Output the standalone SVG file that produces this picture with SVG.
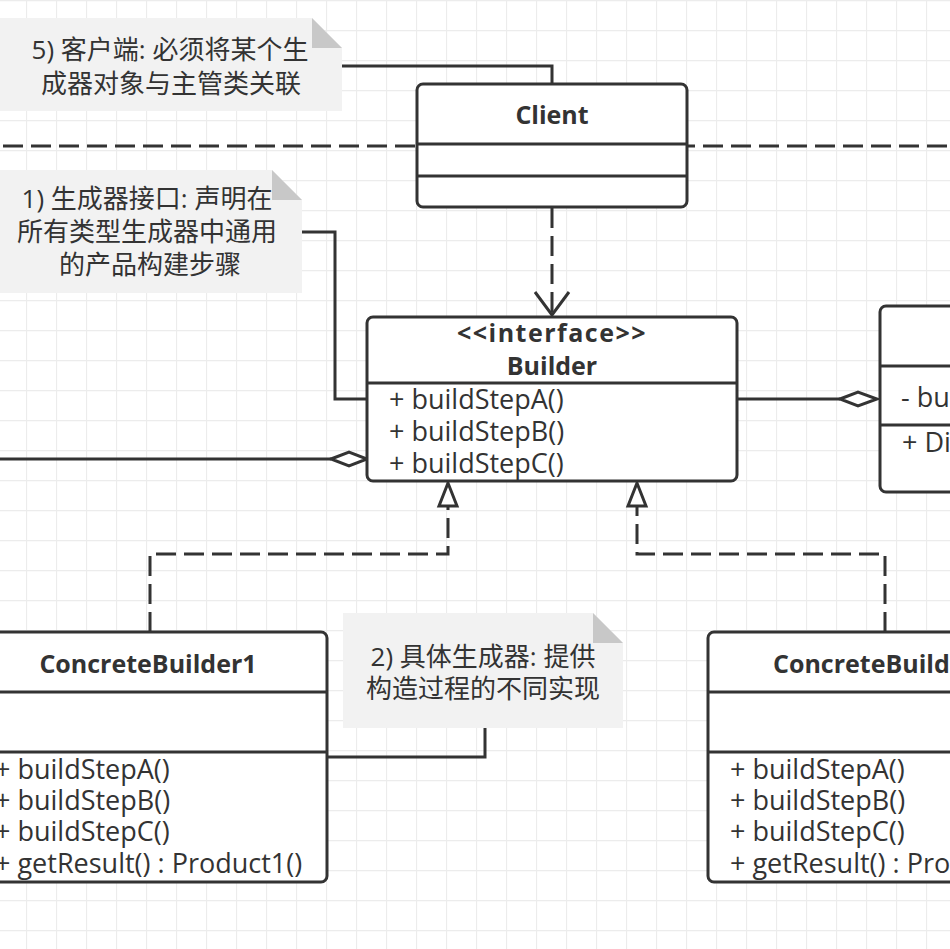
<svg xmlns="http://www.w3.org/2000/svg" width="950" height="949" viewBox="0 0 950 949">
<style>
.box{fill:#fff;stroke:#333;stroke-width:3}
.div{stroke:#333;stroke-width:3}
.ln{fill:none;stroke:#333;stroke-width:3}
.dash{fill:none;stroke:#333;stroke-width:3;stroke-dasharray:20 8}
.note{fill:#f2f2f2}
.fold{fill:#c8c8c8}
.t{font-family:"Open Sans","Noto Sans",sans-serif;font-size:27px;fill:#333}
.b{font-family:"Open Sans","Noto Sans",sans-serif;font-size:25px;font-weight:bold;fill:#333}
.cn{font-family:"Open Sans","Noto Sans CJK SC",sans-serif;font-size:26px;fill:#333}
</style>
<defs>
<pattern id="grid" patternUnits="userSpaceOnUse" x="26" y="0" width="30" height="30">
<path d="M0 0.5H30M0.5 0V30" stroke="#ececec" stroke-width="1.3" fill="none"/>
</pattern>
</defs>
<rect width="950" height="949" fill="#fff"/>
<rect width="950" height="949" fill="url(#grid)"/>

<g id="connectors">
<line class="dash" x1="3" y1="146" x2="950" y2="146"/>
<polyline class="ln" points="342,66 552,66 552,84"/>
<polyline class="ln" points="302,232 335,232 335,399 367,399"/>
<polyline class="ln" points="485,728 485,757 327,757"/>
<line class="dash" x1="552" y1="208" x2="552" y2="313"/>
<polyline class="ln" points="535,292 552,315 569,292"/>
<line class="ln" x1="0" y1="459" x2="331" y2="459"/>
<polygon class="box" points="331,459 349,452 367,459 349,466"/>
<line class="ln" x1="737" y1="399" x2="840" y2="399"/>
<polygon class="box" points="840,399 858,392 877,399 858,406"/>
<polyline class="dash" points="150,632 150,554 448,554 448,507"/>
<polygon class="box" points="448,483 439,506 457,506"/>
<polyline class="dash" points="885,632 885,554 637,554 637,507"/>
<polygon class="box" points="637,483 628,506 646,506"/>
</g>

<g id="note5">
<polygon class="note" points="0,18 312,18 342,48 342,111 0,111"/>
<polygon class="fold" points="312,18 312,48 342,48"/>
<text class="cn" x="170" y="59" text-anchor="middle">5) 客户端: 必须将某个生</text>
<text class="cn" x="171" y="93" text-anchor="middle">成器对象与主管类关联</text>
</g>

<g id="note1">
<polygon class="note" points="0,170 272,170 302,200 302,293 0,293"/>
<polygon class="fold" points="272,170 272,200 302,200"/>
<text class="cn" x="147" y="208" text-anchor="middle">1) 生成器接口: 声明在</text>
<text class="cn" x="147" y="241" text-anchor="middle">所有类型生成器中通用</text>
<text class="cn" x="150" y="274" text-anchor="middle">的产品构建步骤</text>
</g>

<g id="note2">
<polygon class="note" points="343,613 593,613 623,643 623,728 343,728"/>
<polygon class="fold" points="593,613 593,643 623,643"/>
<text class="cn" x="483" y="666" text-anchor="middle">2) 具体生成器: 提供</text>
<text class="cn" x="483" y="698" text-anchor="middle">构造过程的不同实现</text>
</g>

<g id="client">
<rect class="box" x="417" y="84" width="270" height="123" rx="6"/>
<line class="div" x1="417" y1="144" x2="687" y2="144"/>
<line class="div" x1="417" y1="176" x2="687" y2="176"/>
<text class="b" x="552" y="124" text-anchor="middle">Client</text>
</g>

<g id="builder">
<rect class="box" x="367" y="317" width="370" height="164" rx="6"/>
<line class="div" x1="367" y1="383" x2="737" y2="383"/>
<text class="b" x="552" y="342" text-anchor="middle" letter-spacing="1.5">&lt;&lt;interface&gt;&gt;</text>
<text class="b" x="552" y="375" text-anchor="middle">Builder</text>
<text class="t" x="389" y="409">+ buildStepA()</text>
<text class="t" x="389" y="441">+ buildStepB()</text>
<text class="t" x="389" y="473">+ buildStepC()</text>
</g>

<g id="director">
<rect class="box" x="880" y="306" width="200" height="186" rx="6"/>
<line class="div" x1="880" y1="366" x2="950" y2="366"/>
<line class="div" x1="880" y1="425" x2="950" y2="425"/>
<text class="t" x="901" y="407">- bu</text>
<text class="t" x="902" y="452">+ Di</text>
</g>

<g id="concreteBuilder1">
<rect class="box" x="-30" y="632" width="357" height="250" rx="6"/>
<line class="div" x1="-30" y1="692" x2="327" y2="692"/>
<line class="div" x1="-30" y1="752" x2="327" y2="752"/>
<text class="b" x="148" y="673" text-anchor="middle">ConcreteBuilder1</text>
<text class="t" x="-5" y="779">+ buildStepA()</text>
<text class="t" x="-5" y="810">+ buildStepB()</text>
<text class="t" x="-5" y="841">+ buildStepC()</text>
<text class="t" x="-5" y="873">+ getResult() : Product1()</text>
</g>

<g id="concreteBuilder2">
<rect class="box" x="708" y="632" width="357" height="250" rx="6"/>
<line class="div" x1="708" y1="692" x2="950" y2="692"/>
<line class="div" x1="708" y1="752" x2="950" y2="752"/>
<text class="b" x="773" y="673">ConcreteBuild</text>
<text class="t" x="730" y="779">+ buildStepA()</text>
<text class="t" x="730" y="810">+ buildStepB()</text>
<text class="t" x="730" y="841">+ buildStepC()</text>
<text class="t" x="730" y="873">+ getResult() : Pro</text>
</g>
</svg>
